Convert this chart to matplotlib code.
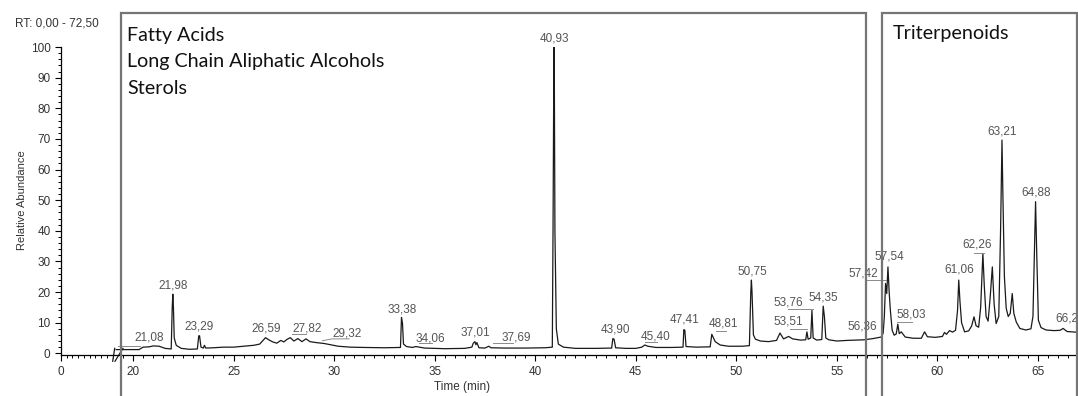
import numpy as np
import matplotlib
matplotlib.use('Agg')
import matplotlib.pyplot as plt
from matplotlib.patches import Rectangle
from matplotlib.ticker import FixedLocator

# chromatogram trace (retention time in min, relative abundance in %)
rt = [19.16, 19.6, 20.3, 20.5, 20.8, 21.0, 21.3, 21.6, 21.9, 21.95, 21.98, 22.01, 22.05, 22.15, 22.4,
      22.8, 23.2, 23.27, 23.31, 23.38, 23.5, 23.55, 23.62, 24.0, 24.5, 25.0, 25.5, 26.0, 26.3, 26.59,
      26.75, 26.95, 27.15, 27.35, 27.5, 27.65, 27.82, 28.0, 28.2, 28.4, 28.6, 28.8, 29.1, 29.5, 29.8,
      30.2, 30.8, 31.5, 32.5, 33.3, 33.35, 33.4, 33.45, 33.6, 33.9, 34.06, 34.5, 35.5, 36.5, 36.85,
      36.92, 37.0, 37.05, 37.1, 37.2, 37.5, 37.69, 37.8, 38.5, 39.5, 40.5, 40.85, 40.89, 40.92, 40.93,
      40.95, 40.98, 41.05, 41.15, 41.4, 42.0, 43.0, 43.8, 43.86, 43.92, 44.0, 44.5, 45.0, 45.3, 45.45,
      45.6, 46.0, 46.8, 47.35, 47.39, 47.44, 47.5, 48.0, 48.7, 48.78, 48.85, 48.95, 49.2, 49.6, 50.3,
      50.65, 50.72, 50.75, 50.78, 50.85, 50.95, 51.2, 51.6, 52.0, 52.17, 52.35, 52.6, 52.8, 53.2, 53.45,
      53.51, 53.57, 53.7, 53.76, 53.82, 54.0, 54.25, 54.32, 54.38, 54.45, 54.6, 55.0, 55.5, 56.0, 56.36,
      56.8, 57.2, 57.3, 57.36, 57.42, 57.48, 57.54, 57.6, 57.66, 57.75, 57.85, 57.95, 58.03, 58.1, 58.2,
      58.4, 58.8, 59.2, 59.36, 59.5, 59.9, 60.25, 60.35, 60.45, 60.6, 60.75, 60.9, 61.0, 61.06, 61.12,
      61.2, 61.35, 61.55, 61.7, 61.82, 61.92, 62.05, 62.15, 62.26, 62.33, 62.42, 62.52, 62.62, 62.73,
      62.82, 62.92, 63.05, 63.14, 63.21, 63.26, 63.33, 63.42, 63.52, 63.62, 63.72, 63.8, 63.92, 64.1,
      64.4, 64.65, 64.75, 64.82, 64.88, 64.94, 65.02, 65.15, 65.4, 65.8, 66.1, 66.25, 66.45, 67.1]
abund = [1.2, 1.2, 1.2, 2.0, 2.1, 2.4, 2.3, 1.6, 1.4, 15.0, 19.3, 15.0, 5.0, 2.6, 1.6,
         1.3, 1.4, 5.7, 5.7, 2.0, 1.7, 2.6, 1.7, 1.8, 2.0, 2.0, 2.3, 2.6, 3.0, 5.1,
         4.4, 3.7, 3.3, 4.2, 3.7, 4.5, 5.1, 4.0, 4.8, 3.8, 4.7, 3.8, 3.5, 3.2, 2.8,
         2.3, 2.0, 1.9, 1.8, 1.9, 11.7, 9.8, 3.0, 2.2, 1.9, 2.2, 1.7, 1.5, 1.6, 2.0,
         3.3, 3.8, 2.8, 3.5, 1.8, 1.7, 2.3, 1.8, 1.7, 1.7, 1.8, 2.0, 45.0, 92.0, 100.0,
         92.0, 40.0, 8.0, 3.0, 2.0, 1.6, 1.6, 1.7, 4.8, 4.6, 1.8, 1.6, 1.6, 2.0, 2.7,
         2.3, 1.9, 1.9, 2.0, 7.7, 7.5, 2.2, 2.0, 2.1, 6.2, 5.2, 3.8, 2.7, 2.3, 2.3,
         2.5, 20.0, 23.9, 20.0, 6.0, 4.6, 4.0, 3.8, 4.2, 6.6, 4.7, 5.5, 4.7, 4.3, 4.4,
         7.0, 4.6, 5.0, 14.0, 5.0, 4.3, 4.5, 15.4, 12.0, 5.0, 4.4, 4.0, 4.2, 4.3, 4.4,
         4.8, 5.3, 6.5, 12.0, 22.8, 19.5, 28.2, 20.0, 14.0, 7.5, 5.9, 6.3, 9.5, 6.4, 7.0,
         5.3, 4.9, 4.9, 7.0, 5.4, 5.2, 5.5, 6.8, 6.2, 7.4, 6.9, 7.5, 14.0, 23.9, 17.0,
         10.0, 7.0, 7.3, 8.9, 11.9, 9.0, 8.5, 15.0, 32.6, 22.0, 12.0, 10.5, 18.0, 28.2,
         16.0, 9.7, 12.0, 40.0, 69.6, 50.0, 25.0, 14.7, 12.0, 13.0, 19.5, 13.0, 10.2, 8.1,
         7.6, 8.0, 12.0, 32.0, 49.5, 32.0, 10.8, 8.4, 7.6, 7.4, 7.5, 8.1, 7.1, 6.8]

peak_labels = ['21,08', '21,98', '23,29', '26,59', '27,82', '29,32', '33,38', '34,06', '37,01',
               '37,69', '40,93', '43,90', '45,40', '47,41', '48,81', '50,75', '53,76', '53,51',
               '54,35', '56,36', '57,42', '57,54', '58,03', '61,06', '62,26', '63,21', '64,88',
               '66,24']
# where each label text sits (time, abundance)
label_pos = [(20.81, 5.2), (22.0, 22.0), (23.3, 8.7), (26.61, 8.2), (28.64, 8.2), (30.63, 6.5),
             (33.36, 14.4), (34.77, 4.9), (37.01, 6.7), (39.04, 5.2), (40.98, 102.8), (43.97, 7.9),
             (45.96, 5.6), (47.45, 10.9), (49.34, 9.6), (50.78, 26.6), (52.57, 16.5), (52.57, 10.3),
             (54.31, 18.2), (56.25, 8.7), (56.3, 26.1), (57.59, 31.5), (58.72, 12.5), (61.09, 27.2),
             (61.98, 35.4), (63.23, 72.3), (64.9, 52.6), (66.6, 11.2)]
# small grey leader lines under some labels
leaders = [([19.25, 20.35], [2.5, 2.5]), ([27.93, 28.6], [6.2, 6.2]), ([29.42, 29.9, 30.75], [4.1, 4.7, 4.7]),
           ([34.2, 34.85], [3.5, 3.5]), ([37.9, 38.9], [3.5, 3.5]), ([45.46, 46.06], [3.8, 3.8]),
           ([48.99, 49.5], [7.4, 7.4]), ([52.57, 53.8], [14.4, 14.4]), ([52.67, 53.5], [7.8, 7.8]),
           ([56.45, 57.45], [23.9, 23.9]), ([58.0, 58.72], [10.3, 10.3]), ([61.8, 62.3], [32.8, 32.8])]

groups = ['Fatty Acids', 'Long Chain Aliphatic Alcohols', 'Sterols']
group2 = 'Triterpenoids'

# broken time axis: 0..tb squeezed, after tb 1:1
tb = 19.155
k = 0.1428


def fwd(t):
    t = np.asarray(t, dtype=float)
    return np.where(t < tb, t * k, tb * k + (t - tb))


def inv(u):
    u = np.asarray(u, dtype=float)
    return np.where(u < tb * k, u / k, u - tb * k + tb)


W, H = 1078, 396
fig = plt.figure(figsize=(W / 100, H / 100), dpi=100)
fig.patch.set_facecolor('white')
ax = fig.add_axes([61 / W, (H - 354.5) / H, (W - 61) / W, (354.5 - 47) / H])

ax.plot(rt, abund, color='#1a1a1a', lw=0.9)

ax.set_xscale('function', functions=(fwd, inv))
ax.set_xlim(0, 66.99)
ax.set_ylim(-0.4, 100)

ax.spines['top'].set_visible(False)
ax.spines['right'].set_visible(False)
for s in ['left', 'bottom']:
    ax.spines[s].set_linewidth(0.9)

ax.xaxis.set_major_locator(FixedLocator([0, 20, 25, 30, 35, 40, 45, 50, 55, 60, 65]))
ax.xaxis.set_minor_locator(FixedLocator(list(np.arange(2, 19, 2)) + list(np.arange(19.5, 67, 0.5))))
ax.yaxis.set_major_locator(FixedLocator(np.arange(0, 101, 10)))
ax.yaxis.set_minor_locator(FixedLocator(np.arange(0, 101, 2)))
ax.set_xticklabels(['0', '20', '25', '30', '35', '40', '45', '50', '55', '60', '65'])
ax.tick_params(which='major', length=4.5, width=0.8, labelsize=8.5, labelcolor='#333333',
               labelfontfamily='Liberation Sans')
ax.tick_params(which='minor', length=2.5, width=0.7)
ax.tick_params(axis='x', pad=4)
ax.tick_params(axis='y', pad=3)

# break marks on the time axis
tr = ax.get_xaxis_transform()
ax.plot([18.0, 18.7], [-0.022, 0.02], transform=tr, color='#1a1a1a', lw=0.9, clip_on=False)
ax.plot([18.8, 19.5], [-0.022, 0.02], transform=tr, color='#1a1a1a', lw=0.9, clip_on=False)

for lab, (x, y) in zip(peak_labels, label_pos):
    ax.text(x, y, lab, ha='center', va='center', fontsize=8.5, color='#555555',
            family='Liberation Sans', clip_on=False)
for xs, ys in leaders:
    ax.plot(xs, ys, color='#8a8a8a', lw=0.7)

fig.text(22 / W, 1 - 200 / H, 'Relative Abundance', rotation=90, ha='center', va='center',
         fontsize=8, color='#333333', family='Liberation Sans')
fig.text(461.7 / W, 1 - 387 / H, 'Time (min)', ha='center', va='center',
         fontsize=8.5, color='#333333', family='Liberation Sans')
fig.text(57 / W, 1 - 24 / H, 'RT: 0,00 - 72,50', ha='center', va='center',
         fontsize=8.5, color='#333333', family='Liberation Sans')

# group boxes
for x0, x1 in [(121, 866), (882, 1077)]:
    fig.add_artist(Rectangle((x0 / W, -0.1), (x1 - x0) / W, 1.1 - 13 / H, transform=fig.transFigure,
                             fill=False, edgecolor='#757575', lw=1.6))
for i, g in enumerate(groups):
    fig.text(127 / W, 1 - (35 + i * 26.5) / H, g, ha='left', va='center', fontsize=14.2,
             color='#111111', family='Lato')
fig.text(893 / W, 1 - 33 / H, group2, ha='left', va='center', fontsize=14.2,
         color='#111111', family='Lato')

fig.savefig('out.png', dpi=100)
